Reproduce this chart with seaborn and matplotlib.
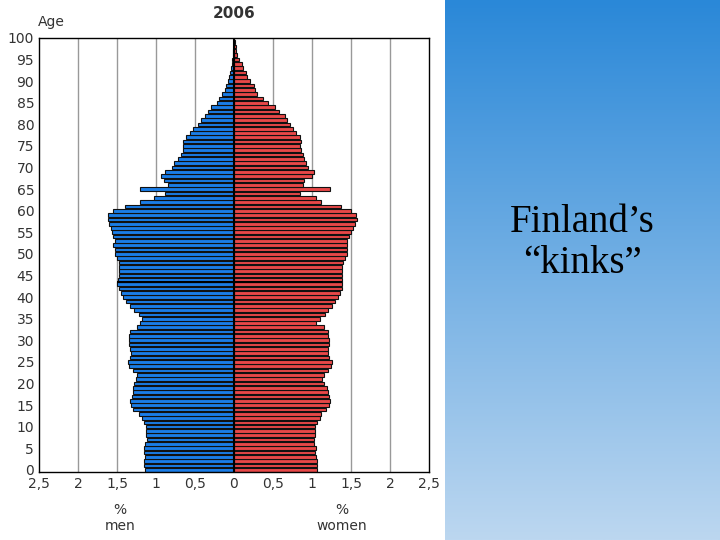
import numpy as np
import pandas as pd
import matplotlib
matplotlib.use("Agg")
import matplotlib.pyplot as plt
import seaborn as sns

ages = list(range(0, 101))
men = [1.14, 1.15, 1.16, 1.14, 1.15, 1.15, 1.14, 1.12, 1.13, 1.13,
       1.13, 1.16, 1.18, 1.22, 1.30, 1.32, 1.33, 1.31, 1.30, 1.29,
       1.28, 1.26, 1.25, 1.30, 1.35, 1.36, 1.33, 1.32, 1.33, 1.34,
       1.35, 1.34, 1.33, 1.25, 1.20, 1.18, 1.22, 1.28, 1.33, 1.38,
       1.42, 1.45, 1.48, 1.50, 1.49, 1.47, 1.47, 1.47, 1.48, 1.50,
       1.52, 1.53, 1.55, 1.52, 1.55, 1.57, 1.58, 1.60, 1.62, 1.62,
       1.55, 1.40, 1.20, 1.02, 0.88, 1.20, 0.85, 0.90, 0.93, 0.88,
       0.80, 0.77, 0.72, 0.68, 0.66, 0.65, 0.65, 0.62, 0.57, 0.52,
       0.46, 0.42, 0.37, 0.33, 0.30, 0.22, 0.19, 0.15, 0.12, 0.10,
       0.08, 0.06, 0.05, 0.04, 0.03, 0.02, 0.015, 0.01, 0.005, 0.003, 0.002]
women = [1.07, 1.07, 1.06, 1.05, 1.04, 1.05, 1.03, 1.03, 1.04, 1.04,
         1.04, 1.07, 1.10, 1.12, 1.18, 1.22, 1.23, 1.22, 1.20, 1.19,
         1.15, 1.13, 1.16, 1.20, 1.24, 1.25, 1.22, 1.20, 1.20, 1.22,
         1.22, 1.21, 1.20, 1.16, 1.05, 1.10, 1.17, 1.20, 1.25, 1.29,
         1.33, 1.36, 1.38, 1.39, 1.39, 1.38, 1.38, 1.38, 1.40, 1.42,
         1.45, 1.45, 1.45, 1.45, 1.48, 1.50, 1.52, 1.55, 1.58, 1.56,
         1.50, 1.37, 1.12, 1.05, 0.85, 1.23, 0.88, 0.90, 1.00, 1.03,
         0.95, 0.92, 0.90, 0.88, 0.86, 0.85, 0.86, 0.85, 0.80, 0.76,
         0.72, 0.68, 0.65, 0.58, 0.52, 0.43, 0.37, 0.30, 0.27, 0.25,
         0.20, 0.17, 0.15, 0.12, 0.10, 0.06, 0.04, 0.03, 0.02, 0.01, 0.005]
xticks = [-2.5, -2, -1.5, -1, -0.5, 0, 0.5, 1, 1.5, 2, 2.5]
xlabels = ["2,5", "2", "1,5", "1", "0,5", "0", "0,5", "1", "1,5", "2", "2,5"]
marked_age = 43

df = pd.DataFrame({"age": ages, "men": [-m for m in men], "women": women})

fig = plt.figure(figsize=(7.2, 5.4), dpi=100)

# gradient panel on the right
bg = fig.add_axes([445 / 720, 0, 275 / 720, 1])
grad = np.linspace(0, 1, 256).reshape(-1, 1)
cmap = matplotlib.colors.LinearSegmentedColormap.from_list("g", ["#2a88d8", "#bcd7f0"])
bg.imshow(grad, aspect="auto", cmap=cmap, extent=[0, 1, 0, 1], origin="upper")
bg.set_axis_off()
bg.text(0.5, 0.55, "Finland\u2019s\n\u201ckinks\u201d", ha="center", va="center",
        fontsize=28, family="Liberation Serif", linespacing=1.15, transform=bg.transAxes)

ax = fig.add_axes([39 / 720, 68 / 540, 390 / 720, 434 / 540])
for x in [-2, -1.5, -1, -0.5, 0.5, 1, 1.5, 2]:
    ax.axvline(x, color="#999999", lw=1, zorder=0)
sns.barplot(data=df, x="men", y="age", orient="h", native_scale=True,
            color="#1a7de8", edgecolor="#111111", linewidth=0.8, width=0.85, saturation=1, ax=ax)
sns.barplot(data=df, x="women", y="age", orient="h", native_scale=True,
            color="#e84848", edgecolor="#111111", linewidth=0.8, width=0.85, saturation=1, ax=ax)
ax.axvline(0, color="black", lw=1.5)
ax.hlines(marked_age + 0.5, -men[marked_age], women[marked_age], color="black", lw=1.5, zorder=5)

ax.set_xlim(-2.5, 2.5)
ax.set_ylim(-0.5, 100)
ax.set_xticks(xticks)
ax.set_xticklabels(xlabels, fontsize=10, color="#333333")
ax.set_yticks(range(0, 101, 5))
ax.set_yticklabels([str(v) for v in range(0, 101, 5)], fontsize=10, color="#333333")
ax.tick_params(length=0)
ax.set_xlabel("")
ax.set_ylabel("")
for s in ax.spines.values():
    s.set_color("black")
    s.set_linewidth(1)

fig.text(120 / 720, 1 - 503 / 540, "%\nmen", ha="center", va="top", fontsize=10, color="#333333")
fig.text(342 / 720, 1 - 503 / 540, "%\nwomen", ha="center", va="top", fontsize=10, color="#333333")
fig.text(38 / 720, 1 - 22 / 540, "Age", ha="left", va="center", fontsize=10, color="#333333")
fig.text(234 / 720, 1 - 13 / 540, "2006", ha="center", va="center", fontsize=11,
         fontweight="bold", color="#333333")

fig.savefig("out.png", dpi=100)
